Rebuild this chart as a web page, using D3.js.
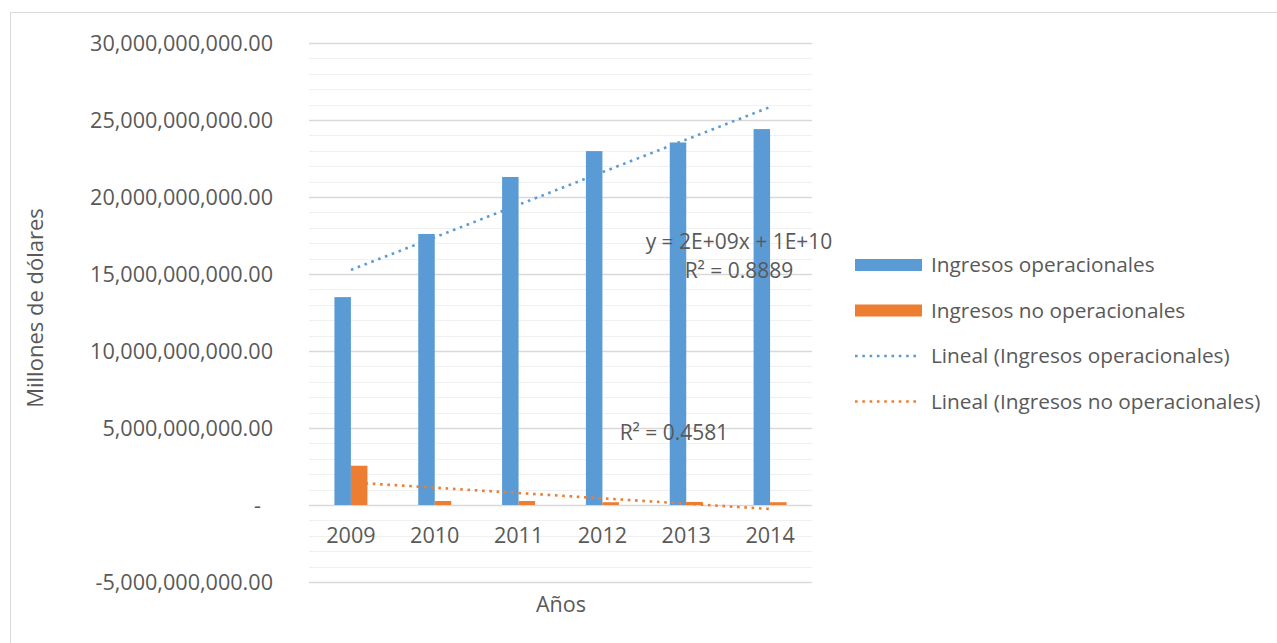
<!DOCTYPE html>
<html>
<head>
<meta charset="utf-8">
<script src="https://cdn.jsdelivr.net/npm/d3@7"></script>
<style>
  body { margin: 0; background: #fff; }
  svg { display: block; }
  text { font-family: "Open Sans", "Liberation Sans", sans-serif; fill: #595959; }
</style>
</head>
<body>
<svg id="chart" width="1277" height="643"></svg>
<script>
// Ingresos anuales (dólares)
const years = ["2009", "2010", "2011", "2012", "2013", "2014"];
const operacionales = [13.5e9, 17.6e9, 21.3e9, 22.98e9, 23.54e9, 24.41e9];
const noOperacionales = [2.55e9, 0.26e9, 0.26e9, 0.18e9, 0.20e9, 0.18e9];
const seriesNames = ["Ingresos operacionales", "Ingresos no operacionales"];
const trendNames = ["Lineal (Ingresos operacionales)", "Lineal (Ingresos no operacionales)"];
const yTicks = [-5e9, 0, 5e9, 10e9, 15e9, 20e9, 25e9, 30e9];
const yMinorStep = 1e9;
const eqOperacionales = ["y = 2E+09x + 1E+10", "R² = 0.8889"];
const eqNoOperacionales = ["R² = 0.4581"];
const yTitle = "Millones de dólares";
const xTitle = "Años";

const colors = ["#5B9BD5", "#ED7D31"];
const svg = d3.select("#chart");

// chart frame
svg.append("rect")
  .attr("x", 10.5).attr("y", 12.5)
  .attr("width", 1300).attr("height", 700)
  .attr("fill", "#fff").attr("stroke", "#d9d9d9");

const plot = { left: 309, right: 812, top: 43, bottom: 582 };

const y = d3.scaleLinear().domain([-5e9, 30e9]).range([plot.bottom, plot.top]);
const x0 = d3.scaleBand().domain(years).range([plot.left, plot.right]);
const halfPair = 16.5;
const x1 = d3.scaleBand().domain(seriesNames)
  .range([x0.bandwidth() / 2 - halfPair, x0.bandwidth() / 2 + halfPair]);

// minor gridlines
const minorTicks = d3.range(-5e9, 30e9 + 1, yMinorStep).filter(v => !yTicks.includes(v));
svg.append("g").selectAll("line").data(minorTicks).join("line")
  .attr("x1", plot.left).attr("x2", plot.right)
  .attr("y1", d => Math.round(y(d)) + 0.5).attr("y2", d => Math.round(y(d)) + 0.5)
  .attr("stroke", "#f0f0f0").attr("stroke-width", 1);

// major gridlines
svg.append("g").selectAll("line").data(yTicks).join("line")
  .attr("x1", plot.left).attr("x2", plot.right)
  .attr("y1", d => Math.round(y(d)) + 0.5).attr("y2", d => Math.round(y(d)) + 0.5)
  .attr("stroke", "#d9d9d9").attr("stroke-width", 1.3);

// y tick labels (accounting style: zero shown as a dash)
const fmt = d3.format(",.2f");
svg.append("g").selectAll("text").data(yTicks).join("text")
  .attr("x", d => d === 0 ? 261 : 273)
  .attr("y", d => y(d) + 7.5)
  .attr("text-anchor", "end")
  .style("font-size", "21.6px")
  .text(d => d === 0 ? "-" : fmt(d).replace("\u2212", "-"));

// bars
const rows = years.map((yr, i) => ({ year: yr, values: [operacionales[i], noOperacionales[i]] }));
const groups = svg.append("g").selectAll("g").data(rows).join("g")
  .attr("transform", d => `translate(${x0(d.year)},0)`);
groups.selectAll("rect").data(d => d.values.map((v, k) => ({ name: seriesNames[k], v, k })))
  .join("rect")
  .attr("x", d => x1(d.name))
  .attr("width", x1.bandwidth())
  .attr("y", d => y(Math.max(0, d.v)))
  .attr("height", d => Math.abs(y(d.v) - y(0)))
  .attr("fill", d => colors[d.k]);

// x tick labels
svg.append("g").selectAll("text").data(years).join("text")
  .attr("x", d => x0(d) + x0.bandwidth() / 2)
  .attr("y", 543)
  .attr("text-anchor", "middle")
  .style("font-size", "21.6px")
  .text(d => d);

// linear trendlines (least squares on x = 1..n)
function linearFit(vals) {
  const n = vals.length;
  const xs = d3.range(1, n + 1);
  const mx = d3.mean(xs), my = d3.mean(vals);
  const sxy = d3.sum(xs, (xv, i) => (xv - mx) * (vals[i] - my));
  const sxx = d3.sum(xs, xv => (xv - mx) ** 2);
  const b = sxy / sxx;
  return { b, a: my - b * mx };
}
const dotDash = "2.6 4.7";
[operacionales, noOperacionales].forEach((vals, k) => {
  const fit = linearFit(vals);
  const xa = x0(years[0]) + x0.bandwidth() / 2;
  const xb = x0(years[years.length - 1]) + x0.bandwidth() / 2;
  svg.append("line")
    .attr("x1", xa).attr("y1", y(fit.a + fit.b * 1))
    .attr("x2", xb).attr("y2", y(fit.a + fit.b * years.length))
    .attr("stroke", colors[k]).attr("stroke-width", 2.6)
    .attr("stroke-dasharray", dotDash);
});

// trendline equations
svg.append("g").selectAll("text").data(eqOperacionales).join("text")
  .attr("x", 739).attr("y", (d, i) => 249 + i * 28.5)
  .attr("text-anchor", "middle")
  .style("font-size", "21px")
  .text(d => d);
svg.append("text")
  .attr("x", 674).attr("y", 439.5)
  .attr("text-anchor", "middle")
  .style("font-size", "21px")
  .text(eqNoOperacionales[0]);

// legend
const legendY = [265, 310.5, 356, 401.5];
const legend = svg.append("g");
seriesNames.forEach((name, k) => {
  legend.append("rect")
    .attr("x", 855).attr("y", legendY[k] - 6)
    .attr("width", 67).attr("height", 12)
    .attr("fill", colors[k]);
  legend.append("text")
    .attr("x", 931).attr("y", legendY[k] + 7.4)
    .style("font-size", "20.8px")
    .text(name);
});
trendNames.forEach((name, k) => {
  const ly = legendY[k + 2];
  legend.append("line")
    .attr("x1", 855).attr("x2", 920)
    .attr("y1", ly).attr("y2", ly)
    .attr("stroke", colors[k]).attr("stroke-width", 2.6)
    .attr("stroke-dasharray", dotDash);
  legend.append("text")
    .attr("x", 931).attr("y", ly + 7.4)
    .style("font-size", "20.8px")
    .text(name);
});

// axis titles
svg.append("text")
  .attr("transform", "translate(43,308) rotate(-90)")
  .attr("text-anchor", "middle")
  .style("font-size", "22px")
  .text(yTitle);
svg.append("text")
  .attr("x", 561).attr("y", 612)
  .attr("text-anchor", "middle")
  .style("font-size", "21.5px")
  .text(xTitle);
</script>
</body>
</html>
